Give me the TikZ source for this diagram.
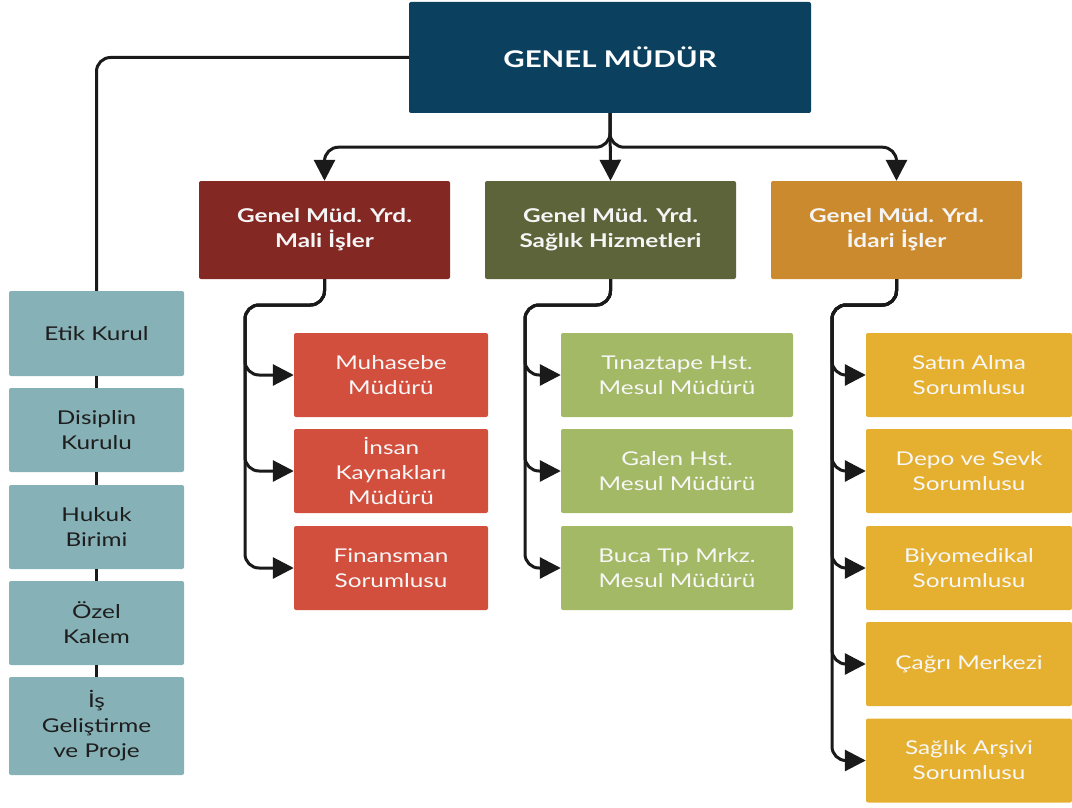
\documentclass[tikz,border=0pt]{standalone}
\usepackage{fontspec}
\setmainfont[FakeStretch=1.28]{Lato}
\usetikzlibrary{arrows.meta,calc}
\definecolor{gmc}{HTML}{0B405F}
\definecolor{malic}{HTML}{832823}
\definecolor{sagc}{HTML}{5E643A}
\definecolor{idac}{HTML}{CC8A2E}
\definecolor{redc}{HTML}{D34F3D}
\definecolor{grnc}{HTML}{A4B966}
\definecolor{ylwc}{HTML}{E5B02F}
\definecolor{leftc}{HTML}{86B1B6}
\definecolor{linec}{HTML}{1A1A1A}
\definecolor{darktxt}{HTML}{1E1E1E}
\tikzset{
  basebox/.style={rectangle, rounded corners=2pt, inner sep=0pt, align=center, draw=none},
  topbox/.style={basebox, fill=gmc, minimum width=402pt, minimum height=111pt, text=white,
     font=\fontsize{23}{28}\selectfont\bfseries},
  midbox/.style={basebox, minimum width=251pt, minimum height=98pt, text=white!96!black,
     font=\fontsize{19}{25}\selectfont\bfseries},
  leafbox/.style={basebox, minimum height=84pt, text=white!97!black,
     font=\fontsize{19}{25}\selectfont},
  leftbox/.style={basebox, fill=leftc, minimum width=175pt, text=darktxt,
     font=\fontsize{19}{25}\selectfont},
  conn/.style={draw=linec, line width=3pt, rounded corners=14pt},
  arr/.style={conn, -{Triangle[length=21pt,width=21pt]}},
}
\begin{document}
\begin{tikzpicture}[x=1pt,y=-1pt]
\useasboundingbox (0,0) rectangle (1072,808);
% top
\node[topbox] (gm) at (610,57.5) {GENEL MÜDÜR};
% level 2
\node[midbox, fill=malic] (mali) at (324.5,230) {Genel Müd. Yrd.\\Mali İşler};
\node[midbox, fill=sagc] (sag) at (610.5,230) {Genel Müd. Yrd.\\Sağlık Hizmetleri};
\node[midbox, fill=idac] (ida) at (896.5,230) {Genel Müd. Yrd.\\İdari İşler};
% left column
\node[leftbox, minimum height=85pt] (etik) at (96.5,333.5) {Etik Kurul};
\node[leftbox, minimum height=84pt] (dis) at (96.5,430) {Disiplin\\Kurulu};
\node[leftbox, minimum height=84pt] (huk) at (96.5,527) {Hukuk\\Birimi};
\node[leftbox, minimum height=84pt] (oze) at (96.5,623) {Özel\\Kalem};
\node[leftbox, minimum height=98pt] (isg) at (96.5,726) {İş\\Geliştirme\\ve Proje};
% mali children
\node[leafbox, fill=redc, minimum width=194pt] (muh) at (391,375) {Muhasebe\\Müdürü};
\node[leafbox, fill=redc, minimum width=194pt] (ins) at (391,471) {İnsan\\Kaynakları\\Müdürü};
\node[leafbox, fill=redc, minimum width=194pt] (fin) at (391,568) {Finansman\\Sorumlusu};
% saglik children
\node[leafbox, fill=grnc, minimum width=232pt] (tin) at (677,375) {Tınaztape Hst.\\Mesul Müdürü};
\node[leafbox, fill=grnc, minimum width=232pt] (gal) at (677,471) {Galen Hst.\\Mesul Müdürü};
\node[leafbox, fill=grnc, minimum width=232pt] (buc) at (677,568) {Buca Tıp Mrkz.\\Mesul Müdürü};
% idari children
\node[leafbox, fill=ylwc, minimum width=206pt] (sat) at (969,375) {Satın Alma\\Sorumlusu};
\node[leafbox, fill=ylwc, minimum width=206pt] (dep) at (969,471) {Depo ve Sevk\\Sorumlusu};
\node[leafbox, fill=ylwc, minimum width=206pt] (biy) at (969,568) {Biyomedikal\\Sorumlusu};
\node[leafbox, fill=ylwc, minimum width=206pt] (cag) at (969,664) {Çağrı Merkezi};
\node[leafbox, fill=ylwc, minimum width=206pt] (ars) at (969,760.5) {Sağlık Arşivi\\Sorumlusu};
% trunk coordinates
\coordinate (tm) at (245,305);
\coordinate (ts) at (525,305);
\coordinate (ti) at (832,305);
% connectors from top
\draw[arr] (gm.south) -- ++(0,34) -| (mali.north);
\draw[arr] (gm.south) -- ++(0,34) -| (ida.north);
\draw[arr] (gm.south) -- (sag.north);
\draw[conn] (gm.west) -| (etik.north);
% left chain
\draw[conn] (etik.south) -- (dis.north);
\draw[conn] (dis.south) -- (huk.north);
\draw[conn] (huk.south) -- (oze.north);
\draw[conn] (oze.south) -- (isg.north);
% branches
\foreach \c in {muh,ins,fin} \draw[arr] (mali.south) |- (tm) |- (\c.west);
\foreach \c in {tin,gal,buc} \draw[arr] (sag.south) |- (ts) |- (\c.west);
\foreach \c in {sat,dep,biy,cag,ars} \draw[arr] (ida.south) |- (ti) |- (\c.west);
\end{tikzpicture}
\end{document}
